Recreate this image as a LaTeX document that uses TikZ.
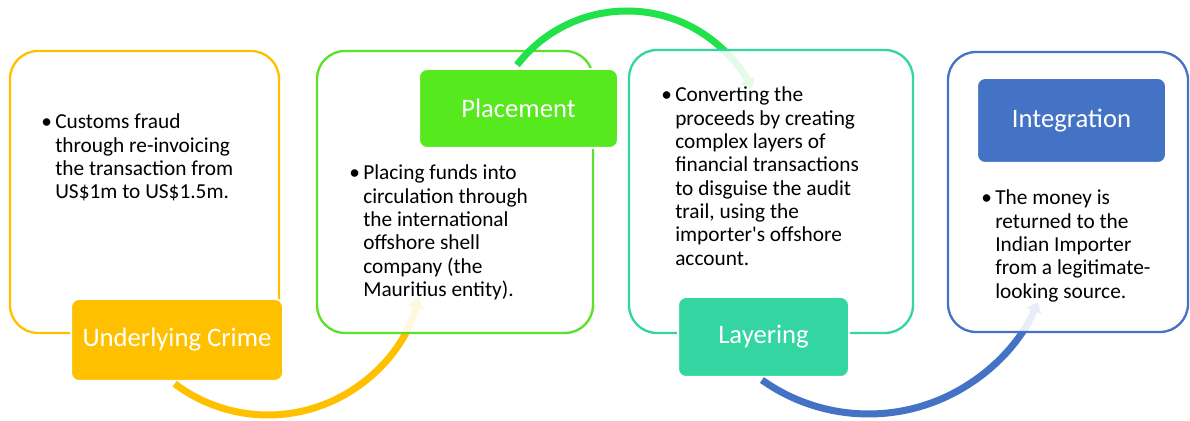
\documentclass[tikz,border=0pt]{standalone}
\usepackage{fontspec}
\setmainfont{Carlito}
\usetikzlibrary{arrows.meta}
\definecolor{ycol}{HTML}{FFC000}
\definecolor{gout}{HTML}{5CE12B}
\definecolor{gfill}{HTML}{56EA1E}
\definecolor{garc}{HTML}{22E24A}
\definecolor{tcol}{HTML}{33D6A1}
\definecolor{bcol}{HTML}{4472C4}
\begin{document}
\begin{tikzpicture}[x=0.75pt,y=0.75pt,
  outline/.style={draw=#1, line width=1.75pt, rounded corners=21pt, fill=white, fill opacity=0.88},
  lbl/.style={fill=#1, draw=white, line width=1.5pt, rounded corners=6pt, text=white,
    font=\fontsize{20}{24}\selectfont, inner sep=0pt},
  arcline/.style={line width=5.25pt, line cap=butt, -{Triangle[length=7.5pt,width=11.5pt]}},
  body/.style={anchor=base west, inner sep=0pt, align=left,
    font=\fontsize{16}{17.5}\selectfont}]
\useasboundingbox (0,0) rectangle (1190,421);
% arc centres
\coordinate (yc) at (268,161);
\coordinate (gc) at (627,271);
\coordinate (bc) at (868.5,191);
% stage 1
\draw[outline=ycol] (10,88) rectangle (279,370);
\node[lbl=ycol, minimum width=159pt, minimum height=61.5pt] (l1) at (177,81) {Underlying Crime};
\node[body] (t1) at (55,292) {\begin{tabular}[t]{@{}l@{}}\llap{\textbullet\hspace{2.5pt}}Customs fraud\\through re-invoicing\\the transaction from\\US\$1m to US\$1.5m.\end{tabular}};
\draw[arcline, ycol] ([shift={(233:116.25pt)}]yc) arc[start angle=233, end angle=346, radius=116.25pt];
% stage 2
\draw[outline=gout] (317,88) rectangle (593,370);
\node[lbl=gfill, minimum width=149.25pt, minimum height=59.25pt] (l2) at (518.5,312.5) {Placement};
\node[body] (t2) at (363,241) {\begin{tabular}[t]{@{}l@{}}\llap{\textbullet\hspace{2.5pt}}Placing funds into\\circulation through\\the international\\offshore shell\\company (the\\Mauritius entity).\end{tabular}};
\draw[arcline, garc] ([shift={(142.3:104.25pt)}]gc) arc[start angle=142.3, end angle=26, radius=104.25pt];
% stage 3
\draw[outline=tcol] (629,88) rectangle (913,371);
\node[lbl=tcol, minimum width=128.25pt, minimum height=60pt] (l3) at (763.5,84) {Layering};
\node[body] (t3) at (675,319) {\begin{tabular}[t]{@{}l@{}}\llap{\textbullet\hspace{2.5pt}}Converting the\\proceeds by creating\\complex layers of\\financial transactions\\to disguise the audit\\trail, using the\\importer\textquotesingle s offshore\\account.\end{tabular}};
\draw[arcline, bcol] ([shift={(234.6:138pt)}]bc) arc[start angle=234.6, end angle=337, radius=138pt];
% stage 4
\draw[outline=bcol] (948,89) rectangle (1188,369);
\node[lbl=bcol, minimum width=141.75pt, minimum height=63.75pt] (l4) at (1071.5,300.5) {Integration};
\node[body] (t4) at (995,216) {\begin{tabular}[t]{@{}l@{}}\llap{\textbullet\hspace{2.5pt}}The money is\\returned to the\\Indian Importer\\from a legitimate-\\looking source.\end{tabular}};
\end{tikzpicture}
\end{document}
